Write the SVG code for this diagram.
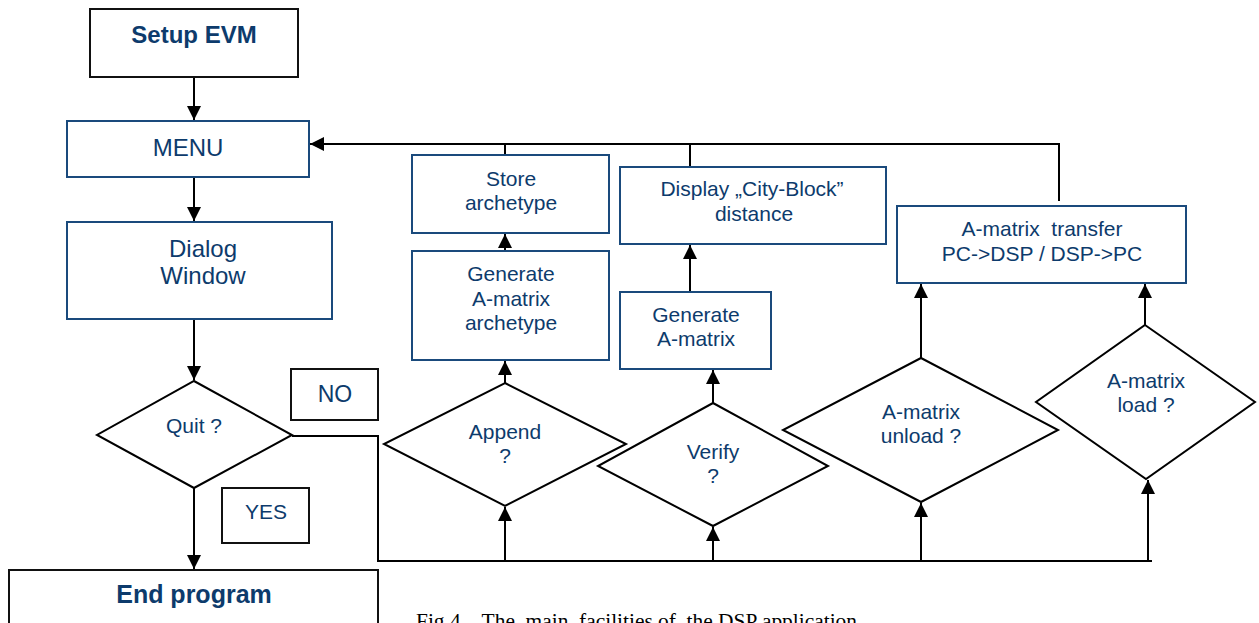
<svg xmlns="http://www.w3.org/2000/svg" width="1259" height="623" viewBox="0 0 1259 623">
<style>
.bx{fill:#fff;stroke:#1a4a7c;stroke-width:2}
.bk{fill:#fff;stroke:#111;stroke-width:2}
.dm{fill:#fff;stroke:#000;stroke-width:2}
.t{font-family:"Liberation Sans",Arial,sans-serif;font-size:21px;fill:#0d3b6c;text-anchor:middle}
.b{font-weight:bold;font-size:25px}
.ln{fill:none;stroke:#000;stroke-width:2}
.cap{font-family:"Liberation Serif","Times New Roman",serif;font-size:20px;fill:#000}
</style>
<defs>
<marker id="ah" viewBox="0 0 14 14" refX="14" refY="7" markerWidth="14" markerHeight="14" markerUnits="userSpaceOnUse" orient="auto">
<path d="M0,0 L14,7 L0,14 Z" fill="#000"/>
</marker>
</defs>
<rect width="1259" height="623" fill="#fff"/>
<g id="connectors">
<path class="ln" d="M194,77 V120" marker-end="url(#ah)"/>
<path class="ln" d="M194,177 V221" marker-end="url(#ah)"/>
<path class="ln" d="M194,319 V380" marker-end="url(#ah)"/>
<path class="ln" d="M194,488 V569" marker-end="url(#ah)"/>
<path class="ln" d="M292,436 H378 V561 H1152"/>
<path class="ln" d="M1059,201 V144 H310" marker-end="url(#ah)"/>
<path class="ln" d="M505,144 V155"/>
<path class="ln" d="M690,144 V167"/>
<path class="ln" d="M505,251 V234" marker-end="url(#ah)"/>
<path class="ln" d="M690,292 V245" marker-end="url(#ah)"/>
<path class="ln" d="M505,383 V361" marker-end="url(#ah)"/>
<path class="ln" d="M713,403 V370" marker-end="url(#ah)"/>
<path class="ln" d="M921,358 V284" marker-end="url(#ah)"/>
<path class="ln" d="M1145,325 V284" marker-end="url(#ah)"/>
<path class="ln" d="M505,561 V507" marker-end="url(#ah)"/>
<path class="ln" d="M713,561 V527" marker-end="url(#ah)"/>
<path class="ln" d="M921,561 V503" marker-end="url(#ah)"/>
<path class="ln" d="M1148,561 V480" marker-end="url(#ah)"/>
</g>
<g id="setup"><rect class="bk" x="90" y="9" width="208" height="68"/><text class="t b" x="194" y="43" style="font-size:24px">Setup EVM</text></g>
<g id="menu"><rect class="bx" x="67" y="121" width="242" height="56"/><text class="t" x="188" y="156" style="font-size:24px">MENU</text></g>
<g id="dialog"><rect class="bx" x="67" y="222" width="265" height="97"/><text class="t" x="203" y="257" style="font-size:24px">Dialog</text><text class="t" x="203" y="284" style="font-size:24px">Window</text></g>
<g id="quit"><polygon class="dm" points="194,381 292,435 194,488 97,435"/><text class="t" x="194" y="433" style="font-size:21px">Quit ?</text></g>
<g id="no"><rect class="bk" x="291" y="369" width="87" height="51"/><text class="t" x="335" y="402" style="font-size:23px">NO</text></g>
<g id="yes"><rect class="bk" x="222" y="488" width="87" height="55"/><text class="t" x="266" y="519">YES</text></g>
<g id="end"><rect class="bk" x="9" y="570" width="369" height="70"/><text class="t b" x="194" y="603">End  program</text></g>
<g id="store"><rect class="bx" x="412" y="155" width="197" height="78"/><text class="t" x="511" y="186">Store</text><text class="t" x="511" y="210">archetype</text></g>
<g id="genarch"><rect class="bx" x="412" y="251" width="197" height="109"/><text class="t" x="511" y="281">Generate</text><text class="t" x="511" y="306">A-matrix</text><text class="t" x="511" y="330">archetype</text></g>
<g id="display"><rect class="bx" x="620" y="167" width="266" height="77"/><text class="t" x="752" y="196">Display „City-Block”</text><text class="t" x="754" y="221">distance</text></g>
<g id="genmat"><rect class="bx" x="620" y="292" width="151" height="77"/><text class="t" x="696" y="322">Generate</text><text class="t" x="696" y="346">A-matrix</text></g>
<g id="transfer"><rect class="bx" x="897" y="206" width="289" height="77"/><text class="t" x="1042" y="236" xml:space="preserve">A-matrix  transfer</text><text class="t" x="1042" y="261">PC-&gt;DSP / DSP-&gt;PC</text></g>
<g id="append"><polygon class="dm" points="505,383 626,444 505,506 384,444"/><text class="t" x="505" y="439">Append</text><text class="t" x="505" y="463">?</text></g>
<g id="verify"><polygon class="dm" points="713,403 828,466 713,526 598,466"/><text class="t" x="713" y="459">Verify</text><text class="t" x="713" y="483">?</text></g>
<g id="unload"><polygon class="dm" points="921,358 1058,430 921,502 783,430"/><text class="t" x="921" y="419">A-matrix</text><text class="t" x="921" y="443">unload ?</text></g>
<g id="load"><polygon class="dm" points="1145,325 1255,402 1146,479 1036,402"/><text class="t" x="1146" y="388">A-matrix</text><text class="t" x="1146" y="412">load ?</text></g>
<text class="cap" x="416" y="628" xml:space="preserve" textLength="441" lengthAdjust="spacingAndGlyphs">Fig.4.   The  main  facilities of  the DSP application</text>
</svg>
